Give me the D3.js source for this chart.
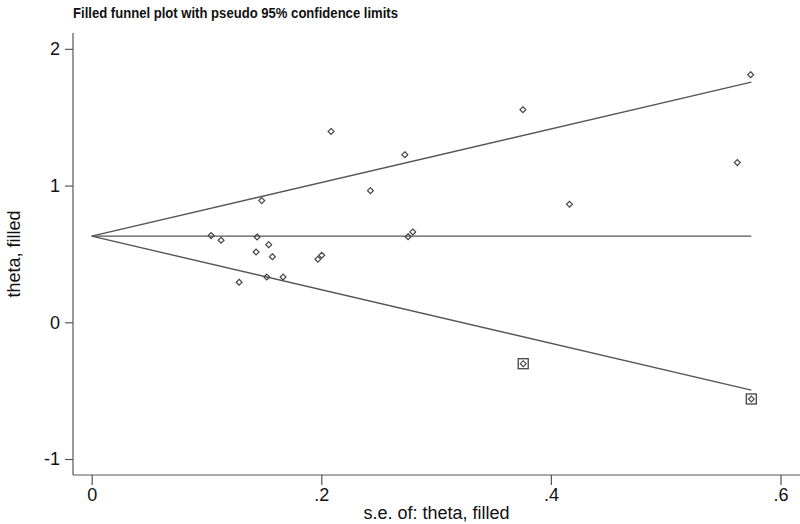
<!DOCTYPE html>
<html>
<head>
<meta charset="utf-8">
<script src="https://cdn.jsdelivr.net/npm/d3@7"></script>
<style>
  body { margin: 0; background: #fff; }
  text { font-family: "Liberation Sans", Arial, sans-serif; fill: #111; }
</style>
</head>
<body>
<svg id="funnel" width="800" height="524"></svg>
<script>
// observed studies (standard error, effect)
const studySE = [0.574, 0.3756, 0.2085, 0.2728, 0.2428, 0.4162, 0.5624, 0.1481, 0.104, 0.1127,
    0.1441, 0.1542, 0.1432, 0.1574, 0.197, 0.2004, 0.1284, 0.1525, 0.1667, 0.2756, 0.2797];
const studyTheta = [1.811, 1.555, 1.396, 1.226, 0.963, 0.863, 1.168, 0.890, 0.634, 0.600,
    0.624, 0.568, 0.514, 0.480, 0.461, 0.490, 0.293, 0.331, 0.331, 0.626, 0.661];
// imputed (filled) studies
const filledSE = [0.3759, 0.5746];
const filledTheta = [-0.303, -0.561];
// pooled estimate after filling
const pooledTheta = 0.63;
const xTicks = [0, 0.2, 0.4, 0.6];
const xTickLabels = ["0", ".2", ".4", ".6"];
const yTicks = [-1, 0, 1, 2];
const yTickLabels = ["-1", "0", "1", "2"];

const svg = d3.select("#funnel");
const plotLeft = 73, plotRight = 800, plotTop = 33, plotBottom = 475;

const x = d3.scaleLinear().domain([-0.0163, 0.617]).range([plotLeft, plotRight]);
const y = d3.scaleLinear().domain([-1.117, 2.116]).range([plotBottom, plotTop]);

svg.append("text")
    .attr("x", 73).attr("y", 18)
    .attr("textLength", 325).attr("lengthAdjust", "spacingAndGlyphs")
    .style("font-size", "15px").style("font-weight", "bold")
    .text("Filled funnel plot with pseudo 95% confidence limits");

// axes
const xAxis = svg.append("g")
    .attr("transform", `translate(0,${plotBottom})`)
    .call(d3.axisBottom(x).tickValues(xTicks).tickSize(10).tickPadding(3)
        .tickFormat((d, i) => xTickLabels[i]));
const yAxis = svg.append("g")
    .attr("transform", `translate(${plotLeft},0)`)
    .call(d3.axisLeft(y).tickValues(yTicks).tickSize(8).tickPadding(5)
        .tickFormat((d, i) => yTickLabels[i]));

[xAxis, yAxis].forEach(a => {
    a.select(".domain").attr("stroke", "#555").attr("stroke-width", 1.2);
    a.selectAll(".tick line").attr("stroke", "#555").attr("stroke-width", 1.2);
    a.selectAll(".tick text").style("font-size", "18px").attr("fill", "#111");
});
xAxis.select(".domain").attr("d", `M${plotLeft},0H${plotRight}`);
yAxis.select(".domain").attr("d", `M0,${plotTop}V${plotBottom}`);

svg.append("text")
    .attr("x", (plotLeft + plotRight) / 2).attr("y", 519)
    .attr("text-anchor", "middle")
    .style("font-size", "18px")
    .text("s.e. of: theta, filled");

svg.append("text")
    .attr("transform", `translate(20,${(plotTop + plotBottom) / 2}) rotate(-90)`)
    .attr("text-anchor", "middle")
    .style("font-size", "18px")
    .text("theta, filled");

// pseudo 95% limits and pooled line
const maxSE = d3.max(studySE.concat(filledSE));
const lines = [
    [[0, pooledTheta], [maxSE, pooledTheta]],
    [[0, pooledTheta], [maxSE, pooledTheta + 1.96 * maxSE]],
    [[0, pooledTheta], [maxSE, pooledTheta - 1.96 * maxSE]]
];
const line = d3.line().x(d => x(d[0])).y(d => y(d[1]));
svg.selectAll(".limit")
    .data(lines)
    .enter()
    .append("path")
    .attr("class", "limit")
    .attr("d", line)
    .attr("fill", "none")
    .attr("stroke", "#555")
    .attr("stroke-width", 1.4);

const diamond = d3.symbol().type(d3.symbolDiamond2).size(22);

svg.selectAll(".study")
    .data(studySE.map((s, i) => [s, studyTheta[i]]))
    .enter()
    .append("path")
    .attr("class", "study")
    .attr("transform", d => `translate(${x(d[0])},${y(d[1])})`)
    .attr("d", diamond)
    .attr("fill", "none")
    .attr("stroke", "#444")
    .attr("stroke-width", 1.2);

const filled = svg.selectAll(".filled")
    .data(filledSE.map((s, i) => [s, filledTheta[i]]))
    .enter()
    .append("g")
    .attr("class", "filled")
    .attr("transform", d => `translate(${x(d[0])},${y(d[1])})`);
filled.append("rect")
    .attr("x", -5).attr("y", -5).attr("width", 10).attr("height", 10)
    .attr("fill", "none").attr("stroke", "#444").attr("stroke-width", 1.3);
filled.append("path")
    .attr("d", diamond)
    .attr("fill", "none").attr("stroke", "#444").attr("stroke-width", 1.1);
</script>
</body>
</html>
